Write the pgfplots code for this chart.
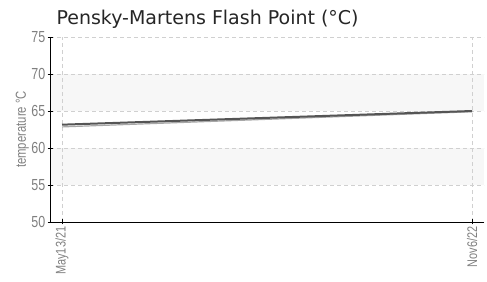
\documentclass[border=0pt]{standalone}
\usepackage{fontspec}
\setmainfont{DejaVu Sans}
\newfontfamily\tickfont[FakeStretch=0.78]{Liberation Sans}
\usepackage{pgfplots}
\pgfplotsset{compat=1.18}
\definecolor{band}{HTML}{F7F7F7}
\definecolor{gridc}{HTML}{D0D0D0}
\definecolor{tickc}{HTML}{808080}
\definecolor{linec}{HTML}{555555}
\definecolor{shadc}{HTML}{A8A8A8}
\begin{document}
\begin{tikzpicture}[x=1pt,y=1pt]
\path (0,0) rectangle (487,281);
\node[anchor=west, font=\fontsize{19}{22}\selectfont, text=black!85] at (53,262) {Pensky-Martens Flash Point (°C)};
\begin{axis}[
  set layers=standard,
  at={(50pt,59pt)}, anchor=south west,
  scale only axis, width=434pt, height=185pt,
  xmin=-0.0293, xmax=1.029, ymin=50, ymax=75,
  axis x line*=bottom, axis y line*=left,
  axis line style={black, line width=0.9pt, -},
  xtick={0,1}, xticklabels={May13/21,Nov6/22},
  ytick={50,55,60,65,70,75},
  /pgf/number format/assume math mode=true,
  x tick label style={rotate=90, anchor=east, font=\tickfont\fontsize{14}{15}\selectfont, text=tickc, inner sep=2pt},
  y tick label style={font=\tickfont\fontsize{16}{17}\selectfont, text=tickc, inner sep=2pt},
  ylabel={temperature °C},
  ylabel style={font=\tickfont\fontsize{14.5}{15}\selectfont, text=tickc, at={(axis description cs:-0.064,0.5)}, anchor=center},
  tick align=center, major tick length=5pt,
  tick style={black, line width=0.8pt},
  grid=major, major grid style={gridc, dash pattern=on 4pt off 3pt, line width=0.6pt},
  clip=false,
]
\begin{pgfonlayer}{axis background}
\fill[band] (axis cs:-0.0293,55) rectangle (axis cs:1.029,60);
\fill[band] (axis cs:-0.0293,65) rectangle (axis cs:1.029,70);
\end{pgfonlayer}
\addplot[shadc, line width=1.2pt, forget plot] coordinates {(0,62.85) (1,64.9)};
\addplot[linec, line width=2pt] coordinates {(0,63.15) (1,65.0)};
\end{axis}
\end{tikzpicture}
\end{document}
